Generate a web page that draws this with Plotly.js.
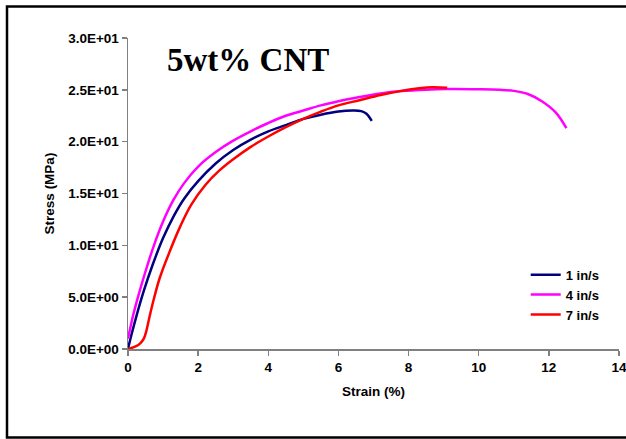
<!DOCTYPE html>
<html>
<head>
<meta charset="utf-8">
<script src="https://cdn.plot.ly/plotly-3.0.1.min.js"></script>
<style>
  html, body { margin: 0; padding: 0; background: #ffffff; }
  #chart { width: 626px; height: 439px; }
</style>
</head>
<body>
<div id="chart"></div>
<script>
// Stress-strain curves, 5wt% CNT, at three loading rates
const seriesNames = ['1 in/s', '4 in/s', '7 in/s'];
const seriesColors = ['#000080', '#FF00FF', '#FF0000'];

const strain1 = [0, 0.1, 0.25, 0.45, 0.7, 1.0, 1.3, 1.6, 2.0, 2.5, 3.0, 3.5, 4.0, 4.5, 5.0, 5.5, 6.0, 6.4, 6.65, 6.8, 6.95];
const stress1 = [0, 1.4, 3.3, 5.6, 8.1, 10.7, 12.8, 14.5, 16.2, 17.9, 19.2, 20.2, 21.0, 21.6, 22.2, 22.6, 22.9, 23.0, 22.95, 22.7, 22.0];

const strain4 = [0, 0.15, 0.3, 0.5, 0.75, 1.0, 1.3, 1.6, 2.0, 2.5, 3.0, 3.5, 4.0, 4.5, 5.0, 5.5, 6.0, 6.6, 7.2, 7.8, 8.5, 9.1, 10.0, 10.6, 11.0, 11.4, 11.8, 12.2, 12.5];
const stress4 = [1.0, 3.3, 5.2, 7.5, 10.1, 12.3, 14.4, 16.0, 17.6, 19.0, 20.1, 21.0, 21.8, 22.5, 23.0, 23.5, 23.9, 24.3, 24.65, 24.88, 25.02, 25.07, 25.05, 25.0, 24.9, 24.6, 23.9, 22.8, 21.3];

const strain7 = [0, 0.2, 0.35, 0.45, 0.52, 0.6, 0.72, 0.9, 1.2, 1.5, 1.8, 2.2, 2.6, 3.0, 3.5, 4.0, 4.5, 5.0, 5.5, 6.0, 6.6, 7.2, 7.8, 8.3, 8.7, 9.1];
const stress7 = [0, 0.22, 0.55, 1.0, 1.7, 2.9, 4.6, 6.8, 9.5, 11.9, 13.9, 15.8, 17.2, 18.3, 19.5, 20.5, 21.4, 22.2, 22.9, 23.5, 24.0, 24.5, 24.9, 25.15, 25.25, 25.2];

const xTicks = [0, 2, 4, 6, 8, 10, 12, 14];
const yTicks = [0, 5, 10, 15, 20, 25, 30];
const yTickText = ['0.0E+00', '5.0E+00', '1.0E+01', '1.5E+01', '2.0E+01', '2.5E+01', '3.0E+01'];

const sans = 'Liberation Sans, Arial, sans-serif';
const serif = 'Liberation Serif, Times New Roman, serif';

const strains = [strain1, strain4, strain7];
const stresses = [stress1, stress4, stress7];

const traces = seriesNames.map((name, i) => ({
  type: 'scatter',
  mode: 'lines',
  name: name,
  x: strains[i],
  y: stresses[i],
  line: { color: seriesColors[i], width: 2.5, shape: 'spline', smoothing: 1 },
  hoverinfo: 'skip'
}));

const axisFont = { family: sans, size: 13.5, color: '#000000', weight: 'bold' };

const layout = {
  width: 626,
  height: 439,
  margin: { l: 128, r: 7, t: 38, b: 90 },
  paper_bgcolor: '#ffffff',
  plot_bgcolor: '#ffffff',
  showlegend: true,
  title: {
    text: '<b>5wt% CNT</b>',
    font: { family: serif, size: 33, color: '#000000' },
    xref: 'container', yref: 'container',
    x: 167 / 626, xanchor: 'left',
    y: 1 - 59 / 439, yanchor: 'middle'
  },
  xaxis: {
    range: [0, 14],
    tickvals: xTicks,
    ticktext: xTicks.map(String),
    ticklabeloverflow: 'allow',
    showgrid: false,
    zeroline: false,
    showline: true,
    linecolor: '#808080',
    linewidth: 1.5,
    ticks: 'outside',
    ticklen: 5,
    tickcolor: '#808080',
    tickwidth: 1.5,
    tickfont: axisFont,
    title: { text: 'Strain (%)', font: axisFont, standoff: 13 }
  },
  yaxis: {
    range: [0, 30],
    tickvals: yTicks,
    ticktext: yTickText,
    ticklabeloverflow: 'allow',
    showgrid: false,
    zeroline: false,
    showline: true,
    linecolor: '#808080',
    linewidth: 1.5,
    ticks: 'outside',
    ticklen: 5,
    tickcolor: '#808080',
    tickwidth: 1.5,
    tickfont: axisFont,
    title: { text: 'Stress (MPa)', font: axisFont, standoff: 10 }
  },
  legend: {
    x: 0.81, y: 0.287,
    xanchor: 'left', yanchor: 'top',
    bgcolor: 'rgba(0,0,0,0)',
    font: { family: sans, size: 13, color: '#000000', weight: 'bold' },
    itemwidth: 30,
    tracegroupgap: 0
  },
  shapes: [{
    type: 'rect',
    xref: 'paper', yref: 'paper',
    x0: (7 - 128) / 491, x1: (632 - 128) / 491,
    y0: (349 - 437.5) / 311, y1: (349 - 6.5) / 311,
    line: { color: '#000000', width: 2.5 },
    fillcolor: 'rgba(0,0,0,0)',
    layer: 'above'
  }]
};

Plotly.newPlot('chart', traces, layout, { displayModeBar: false, staticPlot: true });
</script>
</body>
</html>
